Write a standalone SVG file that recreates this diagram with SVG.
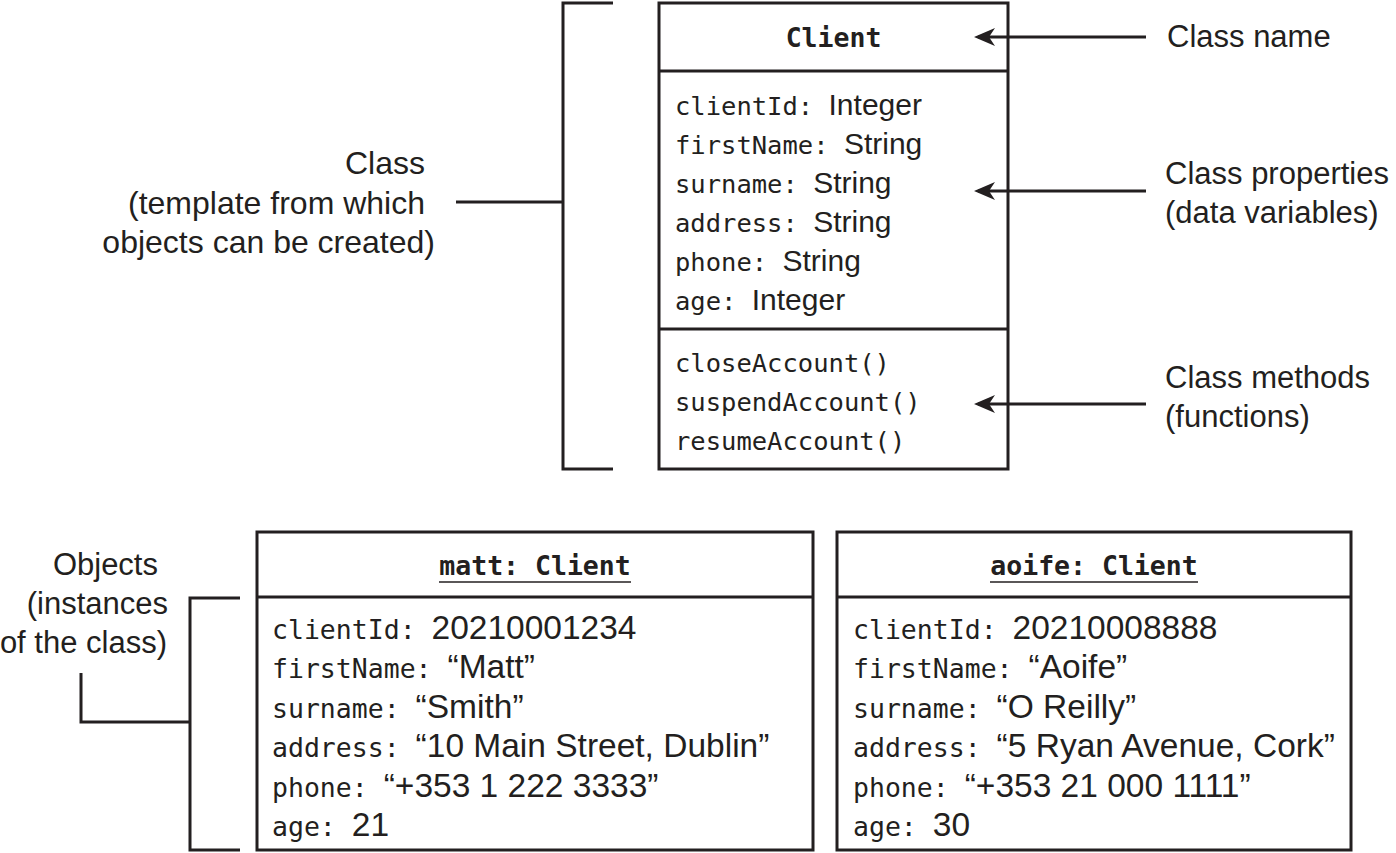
<svg xmlns="http://www.w3.org/2000/svg" width="1396" height="853" viewBox="0 0 1396 853">
<style>
  .box { fill: #ffffff; stroke: #231f20; stroke-width: 3; }
  .ln { fill: none; stroke: #231f20; stroke-width: 3; }
  .ul { stroke: #231f20; stroke-width: 1.6; }
  text { fill: #231f20; }
  .lbl { font-family: "Liberation Sans", Arial, sans-serif; font-size: 31px; }
  .lbl2 { font-family: "Liberation Sans", Arial, sans-serif; font-size: 32px; }
  .cm { font-family: "DejaVu Sans Mono", "Liberation Mono", monospace; font-size: 25.5px; }
  .cv { font-family: "Liberation Sans", Arial, sans-serif; font-size: 30px; }
  .om { font-family: "DejaVu Sans Mono", "Liberation Mono", monospace; font-size: 26.5px; }
  .ov { font-family: "Liberation Sans", Arial, sans-serif; font-size: 33.5px; }
  .title { font-family: "DejaVu Sans Mono", "Liberation Mono", monospace; font-size: 26.5px; font-weight: bold; text-anchor: middle; }
</style>
<defs>
  <marker id="arrow" markerUnits="userSpaceOnUse" markerWidth="24" markerHeight="20" viewBox="0 -10 22 20" refX="17" refY="0" orient="auto">
    <path d="M0,-9 L21,0 L0,9 L6,0 Z" fill="#231f20"/>
  </marker>
</defs>
<rect width="1396" height="853" fill="#ffffff"/>

<g id="class-client">
  <rect class="box" x="659" y="3" width="349" height="466"/>
  <line class="ln" x1="659" y1="71" x2="1008" y2="71"/>
  <line class="ln" x1="659" y1="329" x2="1008" y2="329"/>
  <text class="title" x="833.5" y="47">Client</text>
  <text x="675" y="115"><tspan class="cm">clientId: </tspan><tspan class="cv">Integer</tspan></text>
  <text x="675" y="154"><tspan class="cm">firstName: </tspan><tspan class="cv">String</tspan></text>
  <text x="675" y="193"><tspan class="cm">surname: </tspan><tspan class="cv">String</tspan></text>
  <text x="675" y="232"><tspan class="cm">address: </tspan><tspan class="cv">String</tspan></text>
  <text x="675" y="271"><tspan class="cm">phone: </tspan><tspan class="cv">String</tspan></text>
  <text x="675" y="310"><tspan class="cm">age: </tspan><tspan class="cv">Integer</tspan></text>
  <text class="cm" x="675" y="372">closeAccount()</text>
  <text class="cm" x="675" y="411">suspendAccount()</text>
  <text class="cm" x="675" y="450">resumeAccount()</text>
</g>

<g id="object-matt">
  <rect class="box" x="257" y="532" width="556" height="318"/>
  <line class="ln" x1="257" y1="597" x2="813" y2="597"/>
  <text class="title" x="535" y="575">matt: Client</text>
  <line class="ul" x1="439" y1="582" x2="631" y2="582"/>
  <text x="272" y="639"><tspan class="om">clientId: </tspan><tspan class="ov">20210001234</tspan></text>
  <text x="272" y="678"><tspan class="om">firstName: </tspan><tspan class="ov">“Matt”</tspan></text>
  <text x="272" y="718"><tspan class="om">surname: </tspan><tspan class="ov">“Smith”</tspan></text>
  <text x="272" y="757"><tspan class="om">address: </tspan><tspan class="ov">“10 Main Street, Dublin”</tspan></text>
  <text x="272" y="797"><tspan class="om">phone: </tspan><tspan class="ov">“+353 1 222 3333”</tspan></text>
  <text x="272" y="836"><tspan class="om">age: </tspan><tspan class="ov">21</tspan></text>
</g>

<g id="object-aoife">
  <rect class="box" x="837" y="532" width="514" height="318"/>
  <line class="ln" x1="837" y1="597" x2="1351" y2="597"/>
  <text class="title" x="1094" y="575">aoife: Client</text>
  <line class="ul" x1="990" y1="582" x2="1198" y2="582"/>
  <text x="853" y="639"><tspan class="om">clientId: </tspan><tspan class="ov">20210008888</tspan></text>
  <text x="853" y="678"><tspan class="om">firstName: </tspan><tspan class="ov">“Aoife”</tspan></text>
  <text x="853" y="718"><tspan class="om">surname: </tspan><tspan class="ov">“O Reilly”</tspan></text>
  <text x="853" y="757"><tspan class="om">address: </tspan><tspan class="ov">“5 Ryan Avenue, Cork”</tspan></text>
  <text x="853" y="797"><tspan class="om">phone: </tspan><tspan class="ov">“+353 21 000 1111”</tspan></text>
  <text x="853" y="836"><tspan class="om">age: </tspan><tspan class="ov">30</tspan></text>
</g>

<g id="connectors">
  <line class="ln" x1="1146" y1="37" x2="978" y2="37" marker-end="url(#arrow)"/>
  <line class="ln" x1="1146" y1="191" x2="978" y2="191" marker-end="url(#arrow)"/>
  <line class="ln" x1="1146" y1="404" x2="978" y2="404" marker-end="url(#arrow)"/>
  <path class="ln" d="M613,3 H563 V469 H613"/>
  <line class="ln" x1="456" y1="202" x2="563" y2="202"/>
  <path class="ln" d="M240,598 H190 V850 H240"/>
  <path class="ln" d="M81,673 V722 H190"/>
</g>

<g id="label-class">
  <text class="lbl2" x="425" y="174" text-anchor="end">Class</text>
  <text class="lbl2" x="425" y="214" text-anchor="end">(template from which</text>
  <text class="lbl2" x="435" y="253" text-anchor="end">objects can be created)</text>
</g>

<g id="label-objects">
  <text class="lbl" x="158" y="575" text-anchor="end">Objects</text>
  <text class="lbl" x="168" y="614" text-anchor="end">(instances</text>
  <text class="lbl" x="167" y="653" text-anchor="end">of the class)</text>
</g>

<g id="label-class-name">
  <text class="lbl" x="1167" y="47">Class name</text>
</g>
<g id="label-class-properties">
  <text class="lbl" x="1165" y="184">Class properties</text>
  <text class="lbl" x="1165" y="223">(data variables)</text>
</g>
<g id="label-class-methods">
  <text class="lbl" x="1165" y="388">Class methods</text>
  <text class="lbl" x="1165" y="427">(functions)</text>
</g>
</svg>
